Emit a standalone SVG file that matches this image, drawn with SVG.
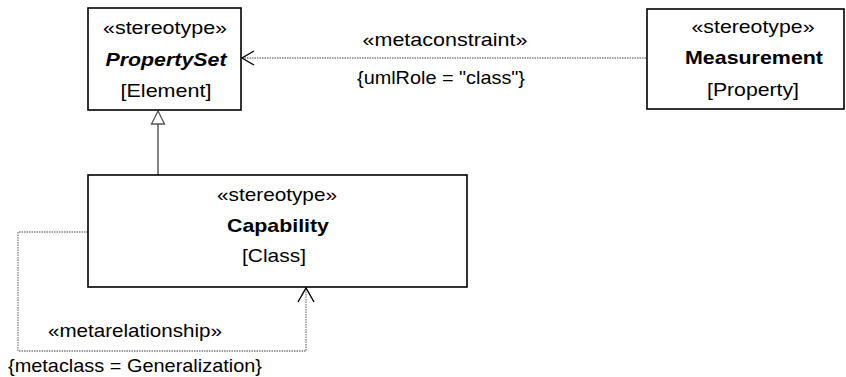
<svg xmlns="http://www.w3.org/2000/svg" width="846" height="377" viewBox="0 0 846 377">
<style>
.box{fill:#fff;stroke:#000;stroke-width:1.6}
.t{font-family:"Liberation Sans",Arial,sans-serif;font-size:19px;fill:#000;text-anchor:middle}
.b{font-weight:bold}
.bi{font-weight:bold;font-style:italic}
.dot{fill:none;stroke:#808080;stroke-width:1.3;stroke-dasharray:1.5 1}
.arr{fill:none;stroke:#000;stroke-width:1.4}
</style>
<rect width="846" height="377" fill="#fff"/>
<g id="connectors">
  <line x1="158" y1="124" x2="158" y2="175" stroke="#666" stroke-width="1.6"/>
  <polygon points="158,111 151.5,124 164.5,124" fill="#fff" stroke="#555" stroke-width="1.3"/>
  <line class="dot" x1="646" y1="58" x2="242" y2="58"/>
  <polyline class="arr" points="254,51 242,58 254,65" stroke="#555"/>
  <polyline class="dot" points="88,232 18,232 18,351 306,351 306,288"/>
  <polyline class="arr" points="298,302 306,288 314,302"/>
  <text class="t" x="445" y="46" textLength="165" lengthAdjust="spacingAndGlyphs">«metaconstraint»</text>
  <text class="t" x="441" y="84" textLength="168" lengthAdjust="spacingAndGlyphs">{umlRole = "class"}</text>
  <text class="t" x="135" y="337" textLength="174" lengthAdjust="spacingAndGlyphs">«metarelationship»</text>
  <text class="t" x="135" y="372" textLength="254" lengthAdjust="spacingAndGlyphs">{metaclass = Generalization}</text>
</g>
<g id="PropertySet">
  <rect class="box" x="88" y="8" width="153" height="102"/>
  <text class="t" x="165" y="34" textLength="124" lengthAdjust="spacingAndGlyphs">«stereotype»</text>
  <text class="t bi" x="166" y="66" textLength="121" lengthAdjust="spacingAndGlyphs">PropertySet</text>
  <text class="t" x="166" y="97" textLength="91" lengthAdjust="spacingAndGlyphs">[Element]</text>
</g>
<g id="Measurement">
  <rect class="box" x="647" y="9" width="197" height="100"/>
  <text class="t" x="753" y="33" textLength="123" lengthAdjust="spacingAndGlyphs">«stereotype»</text>
  <text class="t b" x="754" y="64" textLength="138" lengthAdjust="spacingAndGlyphs">Measurement</text>
  <text class="t" x="753" y="96" textLength="92" lengthAdjust="spacingAndGlyphs">[Property]</text>
</g>
<g id="Capability">
  <rect class="box" x="88" y="175" width="379" height="112"/>
  <text class="t" x="277" y="201" textLength="120" lengthAdjust="spacingAndGlyphs">«stereotype»</text>
  <text class="t b" x="278" y="232" textLength="102" lengthAdjust="spacingAndGlyphs">Capability</text>
  <text class="t" x="274" y="262" textLength="64" lengthAdjust="spacingAndGlyphs">[Class]</text>
</g>
</svg>
